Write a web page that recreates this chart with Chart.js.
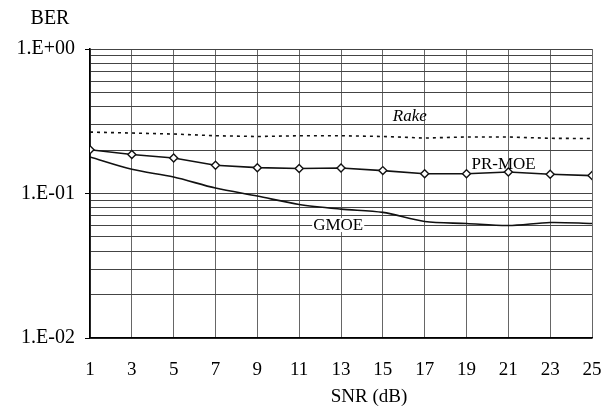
<!DOCTYPE html>
<html>
<head>
<meta charset="utf-8">
<script src="https://cdn.jsdelivr.net/npm/chart.js@4.4.1/dist/chart.umd.min.js"></script>
<style>
  html, body { margin: 0; padding: 0; background: #fff; }
  #wrap { width: 613px; height: 410px; position: relative; }
</style>
</head>
<body>
<div id="wrap"><canvas id="c" width="613" height="410"></canvas></div>
<script>
// SNR points (dB)
const snr = [1, 3, 5, 7, 9, 11, 13, 15, 17, 19, 21, 23, 25];

// Bit error rate per receiver
const rake  = [0.266, 0.262, 0.258, 0.251, 0.248, 0.251, 0.251, 0.248, 0.242, 0.246, 0.246, 0.241, 0.240];
const prMoe = [0.201, 0.186, 0.176, 0.157, 0.151, 0.149, 0.150, 0.144, 0.137, 0.137, 0.141, 0.136, 0.133];
const gmoe  = [0.179, 0.147, 0.130, 0.109, 0.096, 0.084, 0.078, 0.074, 0.064, 0.062, 0.060, 0.063, 0.062];

// Decade labels on the BER axis
const berDecades = [0.01, 0.1, 1];
const berLabels  = ['1.E-02', '1.E-01', '1.E+00'];

const serif = '"Liberation Serif", "Times New Roman", serif';

// log grid values: 1..9 x 10^n between the decades
const gridValues = [];
for (let d = 0; d < berDecades.length - 1; d++) {
  for (let m = 1; m < 10; m++) gridValues.push(+(berDecades[d] * m).toPrecision(3));
}
gridValues.push(berDecades[berDecades.length - 1]);

const pts = arr => arr.map((v, i) => ({ x: snr[i], y: v }));

const textPlugin = {
  id: 'berText',
  afterDraw(chart) {
    const ctx = chart.ctx;
    const xs = chart.scales.x, ys = chart.scales.y;
    ctx.save();
    ctx.fillStyle = '#000';
    ctx.textBaseline = 'middle';
    ctx.textAlign = 'center';
    ctx.font = '20px ' + serif;
    ctx.fillText('BER', 50, 19);
    ctx.font = '19px ' + serif;
    ctx.fillText('SNR (dB)', 369, 397);

    // series labels
    ctx.textAlign = 'left';
    ctx.font = 'italic 17px ' + serif;
    ctx.fillText('Rake', xs.getPixelForValue(15) + 10, ys.getPixelForValue(0.34));
    ctx.font = '17px ' + serif;
    ctx.fillText('PR-MOE', xs.getPixelForValue(19) + 5, ys.getPixelForValue(0.159));
    const gx = xs.getPixelForValue(11) + 14, gy = ys.getPixelForValue(0.0605);
    const w = ctx.measureText('GMOE').width;
    ctx.fillStyle = '#fff';
    ctx.fillRect(gx - 1, gy - 7, w + 2, 14);
    ctx.fillStyle = '#000';
    ctx.fillText('GMOE', gx, gy);
    ctx.restore();
  }
};

new Chart(document.getElementById('c'), {
  type: 'line',
  data: {
    datasets: [
      {
        label: 'Rake', data: pts(rake),
        borderColor: '#111', borderWidth: 1.6, borderDash: [3, 4],
        pointRadius: 0, tension: 0, fill: false
      },
      {
        label: 'PR-MOE', data: pts(prMoe),
        borderColor: '#111', borderWidth: 1.6,
        pointStyle: 'rectRot', pointRadius: 4, pointBorderWidth: 1.4,
        pointBackgroundColor: '#fff', pointBorderColor: '#111',
        tension: 0, fill: false
      },
      {
        label: 'GMOE', data: pts(gmoe),
        borderColor: '#111', borderWidth: 1.6,
        pointRadius: 0, tension: 0.3, fill: false
      }
    ]
  },
  options: {
    responsive: false,
    animation: false,
    layout: { padding: { left: 0, right: 21, top: 49, bottom: 0 } },
    plugins: { legend: { display: false }, tooltip: { enabled: false }, title: { display: false } },
    scales: {
      x: {
        type: 'linear', min: 1, max: 25,
        afterFit(s) { s.height = 72; s.paddingLeft = 0; s.paddingRight = 0; },
        ticks: { stepSize: 2, color: '#000', font: { family: serif, size: 19 }, padding: 21, maxRotation: 0, autoSkip: false },
        grid: { color: '#666', lineWidth: 1, drawTicks: false },
        border: { color: '#000', width: 1.6 }
      },
      y: {
        type: 'logarithmic', min: 0.01, max: 1,
        afterFit(s) { s.width = 90; s.paddingTop = 0; s.paddingBottom = 0; },
        afterBuildTicks(s) {
          s.ticks = gridValues.map(v => ({ value: v, major: berDecades.includes(v) }));
        },
        ticks: {
          autoSkip: false, color: '#000', padding: 10,
          font: { family: serif, size: 20 },
          callback(v) {
            const i = berDecades.findIndex(d => Math.abs(d - v) < 1e-9);
            return i >= 0 ? berLabels[i] : '';
          }
        },
        grid: {
          color: '#444', lineWidth: 1, tickLength: 5,
          tickColor: ctx => (ctx.tick && berDecades.some(d => Math.abs(d - ctx.tick.value) < 1e-9)) ? '#000' : 'rgba(0,0,0,0)'
        },
        border: { color: '#000', width: 1.6 }
      }
    }
  },
  plugins: [textPlugin]
});
</script>
</body>
</html>
